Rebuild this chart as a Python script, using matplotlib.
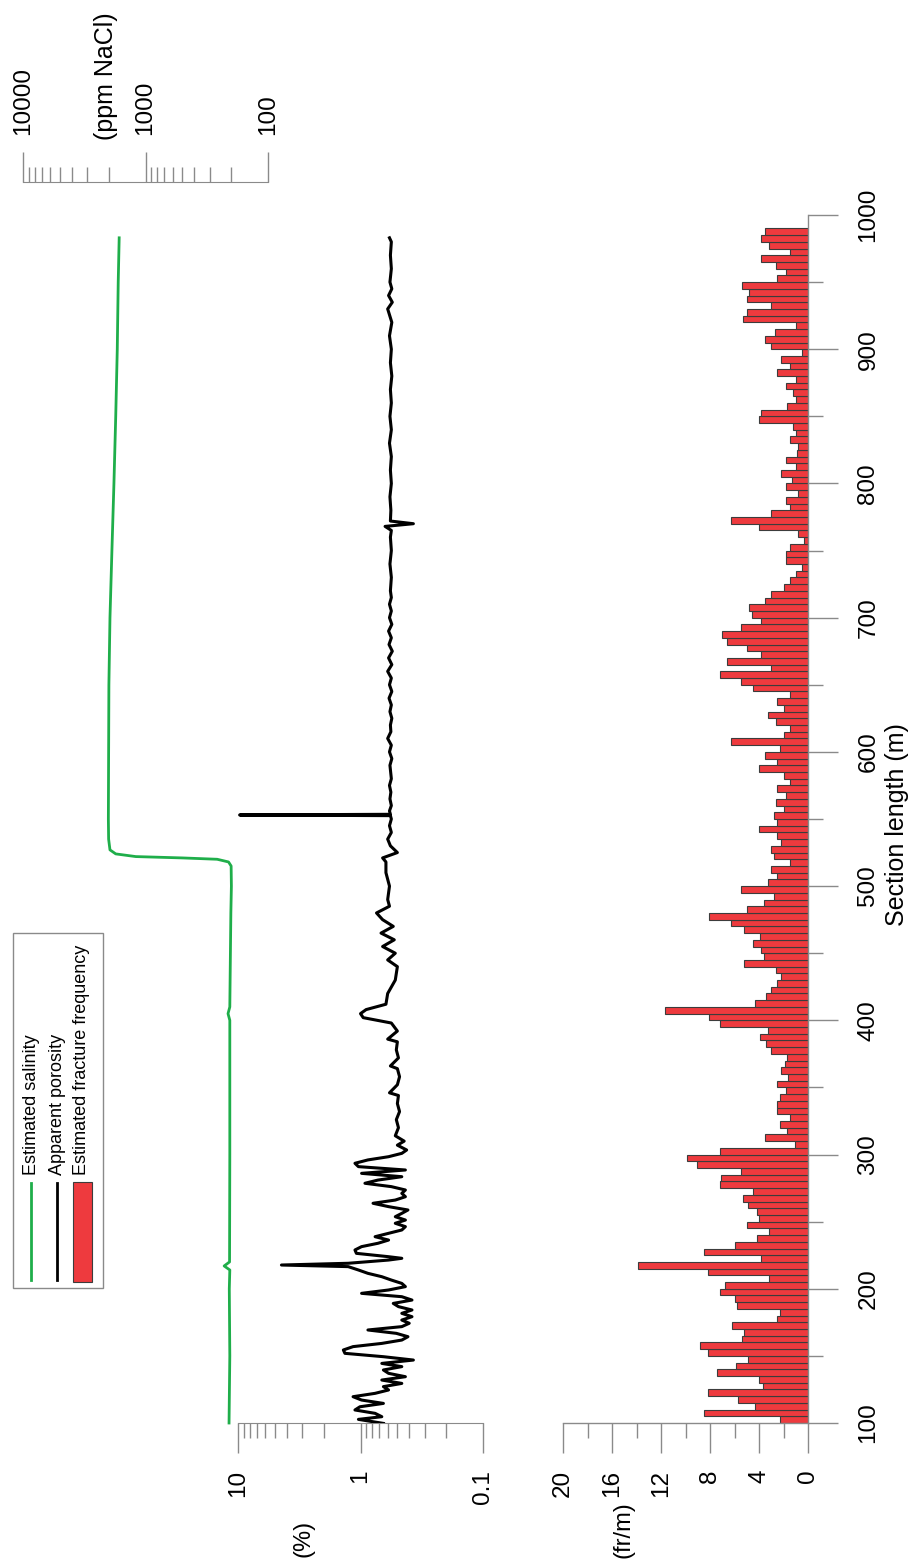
import matplotlib
matplotlib.use("Agg")
import matplotlib.pyplot as plt
from matplotlib.lines import Line2D
from matplotlib.patches import Rectangle
from matplotlib.ticker import FixedLocator, LogLocator, NullFormatter, FixedFormatter

plt.rcParams['font.family'] = ['Liberation Sans', 'DejaVu Sans']

# ---------------- data ----------------
# fracture frequency, 5 m bins starting at 100 m
frac_bin_start = list(range(100, 990, 5))
frac_freq = [
    # 100-200
    2.3, 8.5, 4.3, 5.7, 8.2, 3.7, 4.0, 7.4, 5.9, 4.9, 8.2, 8.8, 5.4, 5.2, 6.2, 2.5, 2.3, 5.8, 6.0, 7.2,
    # 200-300
    6.8, 3.2, 8.2, 13.9, 3.8, 8.5, 6.0, 4.2, 3.2, 5.0, 4.0, 4.2, 4.9, 5.3, 4.5, 7.2, 7.1, 5.5, 9.1, 9.9,
    # 300-400
    7.2, 1.1, 3.5, 1.7, 2.3, 1.5, 2.5, 2.5, 2.3, 1.8, 2.5, 1.6, 2.2, 1.9, 1.7, 3.0, 3.4, 3.9, 3.3, 7.2,
    # 400-500
    8.1, 11.7, 4.3, 3.4, 3.0, 2.5, 2.2, 2.6, 5.2, 3.6, 3.8, 4.5, 3.9, 5.2, 6.3, 8.1, 5.0, 3.6, 2.8, 5.5,
    # 500-600
    3.3, 2.5, 3.0, 1.5, 2.8, 3.0, 2.2, 2.5, 4.0, 2.5, 2.8, 2.0, 2.6, 1.8, 2.5, 1.5, 2.0, 4.0, 2.5, 3.5,
    # 600-700
    2.3, 6.3, 2.0, 1.5, 2.6, 3.3, 2.0, 2.5, 1.5, 4.5, 5.5, 7.2, 3.0, 6.6, 3.8, 5.0, 6.6, 7.0, 5.5, 3.8,
    # 700-800
    4.6, 4.8, 3.5, 3.0, 2.0, 1.5, 1.0, 0.5, 1.8, 1.8, 1.5, 0.3, 0.8, 4.0, 6.3, 3.0, 1.5, 1.8, 0.8, 1.8,
    # 800-900
    1.3, 2.2, 1.0, 1.8, 0.9, 0.8, 1.5, 1.0, 1.2, 4.0, 3.8, 1.7, 1.0, 1.2, 1.8, 1.0, 2.5, 1.5, 2.2, 0.5,
    # 900-990
    3.0, 3.5, 2.7, 1.0, 5.3, 5.0, 3.0, 5.0, 4.8, 5.4, 2.5, 1.8, 2.6, 3.8, 1.5, 3.2, 3.8, 3.5,
]

# apparent porosity (%) vs section length (m)
poro_depth = [
    99.7, 102.7, 104.7, 107.2, 109.7, 112.1, 114.6, 117.1, 119.6, 122.1, 124.6, 127.1, 129.5, 132.0,
    134.5, 137.0, 139.5, 142.0, 144.4, 146.9, 149.4, 151.9, 154.4, 156.9, 159.3, 161.8, 164.3, 166.8,
    169.3, 171.8, 174.3, 176.7, 179.2, 181.7, 184.2, 186.7, 189.1, 191.6, 194.1, 196.6, 199.1, 201.6,
    204.0, 206.5, 209.0, 211.5, 214.0, 216.5, 217.7, 219.0, 221.4, 222.7, 223.9, 226.4, 228.9, 231.4,
    233.9, 236.3, 238.8, 241.3, 243.8, 246.3, 248.8, 251.2, 253.7, 256.2, 258.7, 261.2, 263.7, 266.1,
    268.6, 271.1, 273.6, 276.1, 278.6, 281.0, 283.5, 286.0, 288.5, 291.0, 293.5, 296.0, 298.4, 300.9,
    303.4, 307, 310, 314, 320, 326, 332, 338, 344, 346, 352, 358, 364, 366, 372, 378, 384, 386, 392,
    398, 402, 405, 408, 412, 420, 430, 440,
    445, 450, 455, 460, 465, 470, 475, 480, 485, 490, 500, 510, 518, 521, 525, 530, 535, 540, 545, 550,
    552.5, 553, 553.5, 556, 560, 565, 570, 575, 580, 590, 595, 600, 605, 610, 615, 620, 625, 630, 635,
    640, 645, 650, 655, 660, 665, 670, 675, 680, 685, 690, 695, 700, 705, 710, 715, 720, 730, 740, 750,
    760, 765, 768, 770, 772, 780, 790, 800, 810, 820, 830, 840, 850, 860, 870, 880, 890, 900, 910,
    920, 930, 935, 940, 945, 950, 960, 970, 980, 983,
]
poro_value = [
    0.65, 1.04, 0.67, 0.76, 1.11, 1.01, 0.65, 0.98, 1.15, 0.76, 0.59, 0.65, 0.46, 0.67,
    0.43, 0.59, 0.65, 0.46, 0.67, 0.37, 0.65, 1.34, 1.38, 1.15, 0.67, 0.46, 0.41, 0.51,
    0.87, 0.46, 0.40, 0.46, 0.38, 0.46, 0.38, 0.49, 0.54, 0.38, 0.46, 0.98, 0.59, 0.43,
    0.46, 0.56, 0.67, 0.87, 1.04, 1.26, 4.42, 1.26, 0.59, 0.46, 0.59, 1.08, 1.11, 0.98,
    0.72, 0.59, 0.76, 0.59, 0.46, 0.43, 0.52, 0.43, 0.52, 0.46, 0.41, 0.59, 0.79, 0.52,
    0.43, 0.46, 0.43, 0.56, 0.92, 0.72, 0.46, 0.98, 0.43, 1.04, 1.11, 0.87, 0.59, 0.46,
    0.42, 0.50, 0.44, 0.52, 0.49, 0.51, 0.48, 0.50, 0.49, 0.58, 0.50, 0.48, 0.50, 0.57, 0.49, 0.51,
    0.50, 0.60, 0.50, 0.56, 0.95, 1.0, 0.9, 0.62, 0.60, 0.52, 0.50,
    0.60, 0.52, 0.66, 0.53, 0.68, 0.54, 0.66, 0.74, 0.58, 0.60, 0.58, 0.62, 0.62, 0.66, 0.50, 0.57,
    0.60, 0.56, 0.58, 0.56,
    0.57, 9.7, 0.57, 0.58, 0.56, 0.575, 0.565, 0.58, 0.56, 0.575, 0.555, 0.58, 0.56, 0.60, 0.565, 0.57, 0.555,
    0.575, 0.56, 0.585, 0.555, 0.58, 0.56, 0.60, 0.555, 0.59, 0.55, 0.585, 0.56, 0.59, 0.555, 0.58, 0.56,
    0.58, 0.56, 0.57, 0.56, 0.575, 0.56,
    0.57, 0.56, 0.63, 0.37, 0.57, 0.565, 0.575, 0.56, 0.57, 0.56, 0.58, 0.56, 0.575, 0.56, 0.57, 0.555, 0.57,
    0.56, 0.58, 0.555, 0.60, 0.55, 0.59, 0.555, 0.575, 0.56, 0.57, 0.56, 0.58,
]

# estimated salinity (ppm NaCl) vs section length (m)
sal_depth = [100, 150, 200, 214, 217, 220, 300, 400, 405, 410, 480, 500, 515, 518, 520, 521, 522,
             524, 527, 535, 550, 600, 650, 700, 750, 800, 850, 900, 950, 983]
sal_value = [208, 205, 207, 205, 228, 206, 205, 205, 212, 205, 201, 199, 200, 210, 260, 500, 1200,
             1750, 1950, 2000, 2010, 2000, 1990, 1950, 1880, 1810, 1750, 1700, 1670, 1640]

frac_ticks = [0, 4, 8, 12, 16, 20]
frac_minor = [2, 6, 10, 14, 18]
depth_ticks = list(range(100, 1001, 100))
depth_minor = list(range(150, 1000, 100))
poro_ticks = [0.1, 1, 10]
poro_ticklabels = ['0.1', '1', '10']
sal_ticks = [100, 1000, 10000]
sal_ticklabels = ['100', '1000', '10000']

# ---------------- layout ----------------
W, H = 916, 1566
fig = plt.figure(figsize=(W / 100, H / 100), dpi=100)


def box(x0, y0, x1, y1):
    return [x0 / W, 1 - y1 / H, (x1 - x0) / W, (y1 - y0) / H]


def fx(x):
    return x / W


def fy(y):
    return 1 - y / H


GREY = '#8a8a8a'
RED = '#ee3a3e'
GREEN = '#1fae4a'
TICKFS = 17.5
MAJ, MIN = 21.6, 10.8

Y0, Y1 = 215, 1423

# fracture frequency axes
ax_fr = fig.add_axes(box(563, Y0, 808, Y1))
ax_fr.set_facecolor('none')
ax_fr.barh(frac_bin_start, frac_freq, height=5, align='edge', color=RED,
           edgecolor='#3c3c3c', linewidth=0.8, zorder=2)
ax_fr.set_xlim(20, 0)
ax_fr.set_ylim(100, 1000)
for s in ['left', 'top']:
    ax_fr.spines[s].set_visible(False)
for s in ['right', 'bottom']:
    ax_fr.spines[s].set_color(GREY)
    ax_fr.spines[s].set_linewidth(1.0)
ax_fr.yaxis.tick_right()
ax_fr.xaxis.set_major_locator(FixedLocator(frac_ticks))
ax_fr.xaxis.set_minor_locator(FixedLocator(frac_minor))
ax_fr.yaxis.set_major_locator(FixedLocator(depth_ticks))
ax_fr.yaxis.set_minor_locator(FixedLocator(depth_minor))
ax_fr.tick_params(axis='both', which='major', direction='out', length=MAJ, width=1,
                  color=GREY, labelsize=TICKFS, labelcolor='black')
ax_fr.tick_params(axis='both', which='minor', direction='out', length=MIN, width=1, color=GREY)
ax_fr.tick_params(axis='x', which='major', pad=12, labelrotation=90)
ax_fr.tick_params(axis='y', which='major', pad=14, labelrotation=90)
for lab in ax_fr.get_yticklabels():
    lab.set_verticalalignment('center')
    lab.set_horizontalalignment('left')

# porosity axes
ax_po = fig.add_axes(box(238, Y0, 483, Y1))
ax_po.set_facecolor('none')
ax_po.plot(poro_value, poro_depth, color='black', lw=2.2, solid_joinstyle='round', zorder=3)
ax_po.set_xscale('log')
ax_po.set_xlim(10, 0.1)
ax_po.set_ylim(100, 1000)
for s in ['left', 'top', 'right']:
    ax_po.spines[s].set_visible(False)
ax_po.spines['bottom'].set_color(GREY)
ax_po.yaxis.set_visible(False)
ax_po.xaxis.set_major_locator(FixedLocator(poro_ticks))
ax_po.xaxis.set_major_formatter(FixedFormatter(poro_ticklabels))
ax_po.xaxis.set_minor_locator(LogLocator(base=10, subs=range(2, 10)))
ax_po.xaxis.set_minor_formatter(NullFormatter())
ax_po.tick_params(axis='x', which='major', direction='out', length=MAJ, width=1, color=GREY,
                  labelsize=TICKFS, pad=12, labelrotation=90)
ax_po.tick_params(axis='x', which='minor', direction='out', length=MIN, width=1, color=GREY)

# salinity axes
ax_sa = fig.add_axes(box(23, Y0, 268, Y1))
ax_sa.set_facecolor('none')
ax_sa.plot(sal_value, sal_depth, color=GREEN, lw=2.0, zorder=3, clip_on=False)
ax_sa.set_xscale('log')
ax_sa.set_xlim(10000, 100)
ax_sa.set_ylim(100, 1000)
for s in ['left', 'bottom', 'right']:
    ax_sa.spines[s].set_visible(False)
ax_sa.spines['top'].set_color(GREY)
ax_sa.spines['top'].set_position(('outward', 33 * 0.72))
ax_sa.yaxis.set_visible(False)
ax_sa.xaxis.tick_top()
ax_sa.xaxis.set_major_locator(FixedLocator(sal_ticks))
ax_sa.xaxis.set_major_formatter(FixedFormatter(sal_ticklabels))
ax_sa.xaxis.set_minor_locator(LogLocator(base=10, subs=range(2, 10)))
ax_sa.xaxis.set_minor_formatter(NullFormatter())
ax_sa.tick_params(axis='x', which='major', direction='out', length=MAJ, width=1, color=GREY,
                  labelsize=TICKFS, pad=12, labelrotation=90)
ax_sa.tick_params(axis='x', which='minor', direction='out', length=MIN, width=1, color=GREY)

# axis titles
fig.text(fx(897), fy(825), 'Section length (m)', rotation=90, ha='center', va='center', fontsize=18)
fig.text(fx(623), fy(1530), '(fr/m)', rotation=90, ha='center', va='center', fontsize=17)
fig.text(fx(303), fy(1538), '(%)', rotation=90, ha='center', va='center', fontsize=17)
fig.text(fx(106), fy(76), '(ppm NaCl)', rotation=90, ha='center', va='center', fontsize=18)

# legend (rotated)
fig.add_artist(Rectangle((fx(13), fy(1288)), fx(103) - fx(13), fy(933) - fy(1288),
                         transform=fig.transFigure, facecolor='white', edgecolor=GREY, lw=1.0))
fig.add_artist(Line2D([fx(31), fx(31)], [fy(1183), fy(1280)], transform=fig.transFigure,
                      color=GREEN, lw=2.0))
fig.add_artist(Line2D([fx(57), fx(57)], [fy(1183), fy(1280)], transform=fig.transFigure,
                      color='black', lw=2.0))
fig.add_artist(Rectangle((fx(73), fy(1282)), fx(92) - fx(73), fy(1182) - fy(1282),
                         transform=fig.transFigure, facecolor=RED, edgecolor='#3c3c3c', lw=0.8))
LEGFS = 13
fig.text(fx(32), fy(1175), 'Estimated salinity', rotation=90, ha='center', va='bottom', fontsize=LEGFS)
fig.text(fx(57), fy(1175), 'Apparent porosity', rotation=90, ha='center', va='bottom', fontsize=LEGFS)
fig.text(fx(82), fy(1175), 'Estimated fracture frequency', rotation=90, ha='center', va='bottom',
         fontsize=LEGFS)

fig.savefig('out.png', dpi=100)
